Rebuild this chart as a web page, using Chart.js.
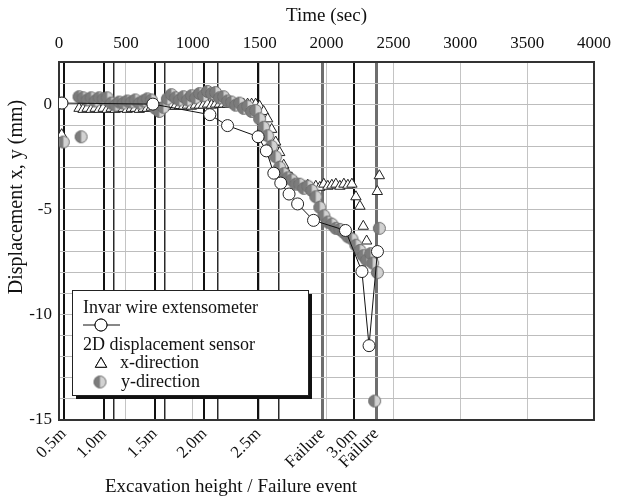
<!DOCTYPE html>
<html>
<head>
<meta charset="utf-8">
<script src="https://cdn.jsdelivr.net/npm/chart.js@4.4.0/dist/chart.umd.min.js"></script>
<style>
  html, body { margin: 0; padding: 0; background: #fff; }
  #wrap { width: 628px; height: 503px; }
</style>
</head>
<body>
<div id="wrap"><canvas id="chart" width="628" height="503"></canvas></div>
<script>
// Excavation steps / failure events (bottom axis)
const eventTime  = [36, 336, 408, 716, 788, 1087, 1189, 1491, 1641, 1970, 2209, 2371];
const eventLabel = ['0.5m', '1.0m', '', '1.5m', '', '2.0m', '', '2.5m', '', 'Failure', '3.0m', 'Failure'];

// Invar wire extensometer
const invarTime = [22, 702, 1128, 1260, 1489, 1550, 1606, 1658, 1720, 1784, 1903, 2142, 2265, 2318, 2381];
const invarDisp = [0.05, 0.0, -0.5, -1.02, -1.55, -2.22, -3.28, -3.75, -4.27, -4.74, -5.52, -6.0, -7.95, -11.47, -7.0];

// 2D displacement sensor (x and y direction share the time stamps)
const sensorTime = [20, 32, 165,
  150, 180, 210, 240, 270, 300, 330, 360, 390, 420, 450, 480, 510, 540, 570, 600,
  630, 660, 690, 720, 750, 780, 810, 840, 870, 900, 930, 960, 990, 1020, 1050, 1080,
  1110, 1140, 1170, 1200, 1230, 1260, 1290, 1320, 1350, 1380, 1410, 1440, 1470, 1500,
  1530, 1560, 1590, 1620, 1650, 1680, 1710, 1740, 1770, 1800, 1830, 1860, 1890, 1920,
  1950, 1980, 2010, 2040, 2070, 2100, 2130, 2160, 2190, 2220, 2250, 2275, 2300, 2330,
  2345, 2360, 2380, 2395];
const xDisp = [-1.45, null, null,
  -0.2, -0.25, -0.2, -0.25, -0.2, -0.25, -0.2, -0.25, -0.2, -0.25, -0.2, -0.2, -0.25, -0.2, -0.2, -0.25,
  -0.2, -0.2, -0.15, -0.2, -0.2, -0.15, -0.1, -0.1, -0.1, -0.1, -0.1, -0.05, -0.1, -0.05, -0.05, -0.05,
  0.0, -0.05, 0.0, 0.0, 0.0, 0.0, 0.05, 0.0, 0.0, 0.0, 0.0, 0.0, 0.0, -0.1,
  -0.35, -0.7, -1.2, -1.8, -2.3, -2.9, -3.3, -3.5, -3.7, -3.8, -3.9, -3.85, -4.0, -3.9,
  -3.95, -3.8, -3.9, -3.85, -3.8, -3.9, -3.8, -3.85, -3.8, -4.4, -4.85, -5.8, -6.5, null,
  null, null, -4.15, -3.4];
const yDisp = [0.05, -1.8, -1.55,
  0.35, 0.3, 0.2, 0.3, 0.15, 0.3, 0.25, 0.3, 0.05, -0.05, 0.1, 0.05, 0.15, 0.1, 0.2, 0.05,
  0.15, 0.25, 0.2, -0.2, -0.35, -0.15, 0.25, 0.45, 0.3, 0.2, 0.35, 0.2, 0.4, 0.3, 0.5, 0.4,
  0.6, 0.5, 0.55, 0.3, 0.35, 0.15, 0.1, -0.05, 0.05, -0.2, -0.1, -0.35, -0.3, -0.7,
  -1.1, -1.5, -2.0, -2.5, -3.0, -3.3, -3.5, -3.6, -3.8, -3.8, -4.0, -3.9, -4.1, -4.4,
  -4.9, -5.3, -5.6, -5.7, -5.9, -5.95, -6.1, -6.3, -6.4, -6.7, -6.95, -7.2, -7.4, -7.1,
  -7.55, -14.1, -8.0, -5.9];

const FONT = "'Liberation Serif', 'Times New Roman', serif";

function pts(xs, ys) {
  return xs.map((x, i) => ({ x: x, y: ys[i] })).filter(p => p.y !== null);
}

// half filled marker for y-direction
function makeHalfDot(r) {
  const s = Math.ceil(r * 2 + 3);
  const c = document.createElement('canvas');
  c.width = s; c.height = s;
  const g = c.getContext('2d');
  const cx = s / 2, cy = s / 2;
  g.beginPath(); g.arc(cx, cy, r, 0, Math.PI * 2);
  g.fillStyle = '#d2d2d2'; g.fill();
  g.beginPath(); g.moveTo(cx, cy - r); g.arc(cx, cy, r, -Math.PI / 2, Math.PI / 2, true); g.closePath();
  g.fillStyle = '#7c7c7c'; g.fill();
  g.beginPath(); g.arc(cx, cy, r, 0, Math.PI * 2);
  g.strokeStyle = '#6a6a6a'; g.lineWidth = 1; g.stroke();
  return c;
}
const halfDot = makeHalfDot(6);

function fixSize(prop, v) {
  return function(scale) { scale[prop] = v; };
}

// legend box + the two off-centre axis titles
const extras = {
  id: 'extras',
  afterDraw(chart) {
    const ctx = chart.ctx;
    ctx.save();
    // legend
    const bx = 72, by = 290, bw = 236, bh = 105;
    ctx.fillStyle = '#111';
    ctx.fillRect(bx + 4, by + 4, bw, bh);
    ctx.fillStyle = '#fff';
    ctx.fillRect(bx, by, bw, bh);
    ctx.strokeStyle = '#222';
    ctx.lineWidth = 1;
    ctx.strokeRect(bx + 0.5, by + 0.5, bw, bh);

    ctx.fillStyle = '#111';
    ctx.font = '18px ' + FONT;
    ctx.textBaseline = 'middle';
    ctx.textAlign = 'left';
    ctx.fillText('Invar wire extensometer', 83, 308);
    ctx.beginPath();
    ctx.moveTo(83, 325); ctx.lineTo(120, 325);
    ctx.strokeStyle = '#111'; ctx.stroke();
    Chart.helpers.drawPoint(ctx, { pointStyle: 'circle', radius: 6, borderWidth: 1 }, 101, 325);
    ctx.fillStyle = '#fff'; ctx.fill(); ctx.stroke();
    ctx.fillStyle = '#111';
    ctx.fillText('2D displacement sensor', 83, 345);
    ctx.beginPath();
    Chart.helpers.drawPoint(ctx, { pointStyle: 'triangle', radius: 6.5, borderWidth: 1 }, 101, 364);
    ctx.fillStyle = '#fff'; ctx.fill(); ctx.stroke();
    ctx.fillStyle = '#111';
    ctx.fillText('x-direction', 120, 363);
    ctx.drawImage(halfDot, 100 - halfDot.width / 2, 382 - halfDot.height / 2);
    ctx.fillText('y-direction', 121, 382);

    // bottom title
    ctx.font = '19px ' + FONT;
    ctx.textAlign = 'center';
    ctx.fillText('Excavation height / Failure event', 231, 487);
    // y title
    ctx.translate(17, 197);
    ctx.rotate(-Math.PI / 2);
    ctx.font = '20px ' + FONT;
    ctx.fillText('Displacement x, y (mm)', 0, 0);
    ctx.restore();
  }
};

new Chart(document.getElementById('chart'), {
  type: 'scatter',
  data: {
    datasets: [
      {
        label: 'Invar wire extensometer',
        data: pts(invarTime, invarDisp),
        order: 0,
        showLine: true,
        borderColor: '#111',
        borderWidth: 1,
        pointStyle: 'circle',
        pointRadius: 6,
        pointBackgroundColor: '#fff',
        pointBorderColor: '#222',
        pointBorderWidth: 1
      },
      {
        label: 'x-direction',
        data: pts(sensorTime, xDisp),
        order: 2,
        pointStyle: 'triangle',
        pointRadius: 6,
        pointBackgroundColor: '#fff',
        pointBorderColor: '#222',
        pointBorderWidth: 1
      },
      {
        label: 'y-direction',
        data: pts(sensorTime, yDisp),
        order: 1,
        pointStyle: halfDot,
        pointRadius: 6
      }
    ]
  },
  options: {
    responsive: false,
    animation: false,
    layout: { padding: { left: 0, right: 34, top: 0, bottom: 0 } },
    plugins: { legend: { display: false }, tooltip: { enabled: false } },
    scales: {
      x: {
        type: 'linear', position: 'top', min: 0, max: 4000,
        afterFit: fixSize('height', 62),
        ticks: { stepSize: 500, padding: 8, color: '#111', font: { family: FONT, size: 17 }, callback: v => String(v) },
        grid: { color: '#c4c4c4', lineWidth: 1, drawTicks: false },
        border: { color: '#333', width: 2 },
        title: { display: true, text: 'Time (sec)', color: '#111', padding: { top: 5, bottom: 0 }, font: { family: FONT, size: 19 } }
      },
      x2: {
        type: 'linear', position: 'bottom', min: 0, max: 4000,
        afterFit: fixSize('height', 83),
        afterBuildTicks: axis => { axis.ticks = eventTime.map(v => ({ value: v })); },
        ticks: {
          autoSkip: false, minRotation: 45, maxRotation: 45, padding: 4,
          color: '#111', font: { family: FONT, size: 17 },
          callback: (v, i) => eventLabel[i]
        },
        grid: {
          drawTicks: false,
          color: c => eventLabel[c.index] === 'Failure' ? '#6e6e6e' : (eventLabel[c.index] === '' ? '#2a2a2a' : '#111'),
          lineWidth: c => eventLabel[c.index] === 'Failure' ? 3 : (eventLabel[c.index] === '' ? 1.5 : 2)
        },
        border: { color: '#333', width: 2 }
      },
      y: {
        type: 'linear', position: 'left', min: -15, max: 2,
        afterFit: fixSize('width', 59),
        ticks: {
          count: 18, autoSkip: false, padding: 7, color: '#111', font: { family: FONT, size: 17 },
          callback: v => (Math.round(v) % 5 === 0 ? String(Math.round(v)) : '')
        },
        grid: { color: '#bdbdbd', lineWidth: 1, drawTicks: false },
        border: { color: '#333', width: 2 }
      },
      y2: {
        type: 'linear', position: 'right', min: -15, max: 2,
        afterFit: fixSize('width', 0),
        ticks: { display: false },
        grid: { display: false, drawTicks: false },
        border: { color: '#333', width: 2 }
      }
    }
  },
  plugins: [extras]
});
</script>
</body>
</html>
